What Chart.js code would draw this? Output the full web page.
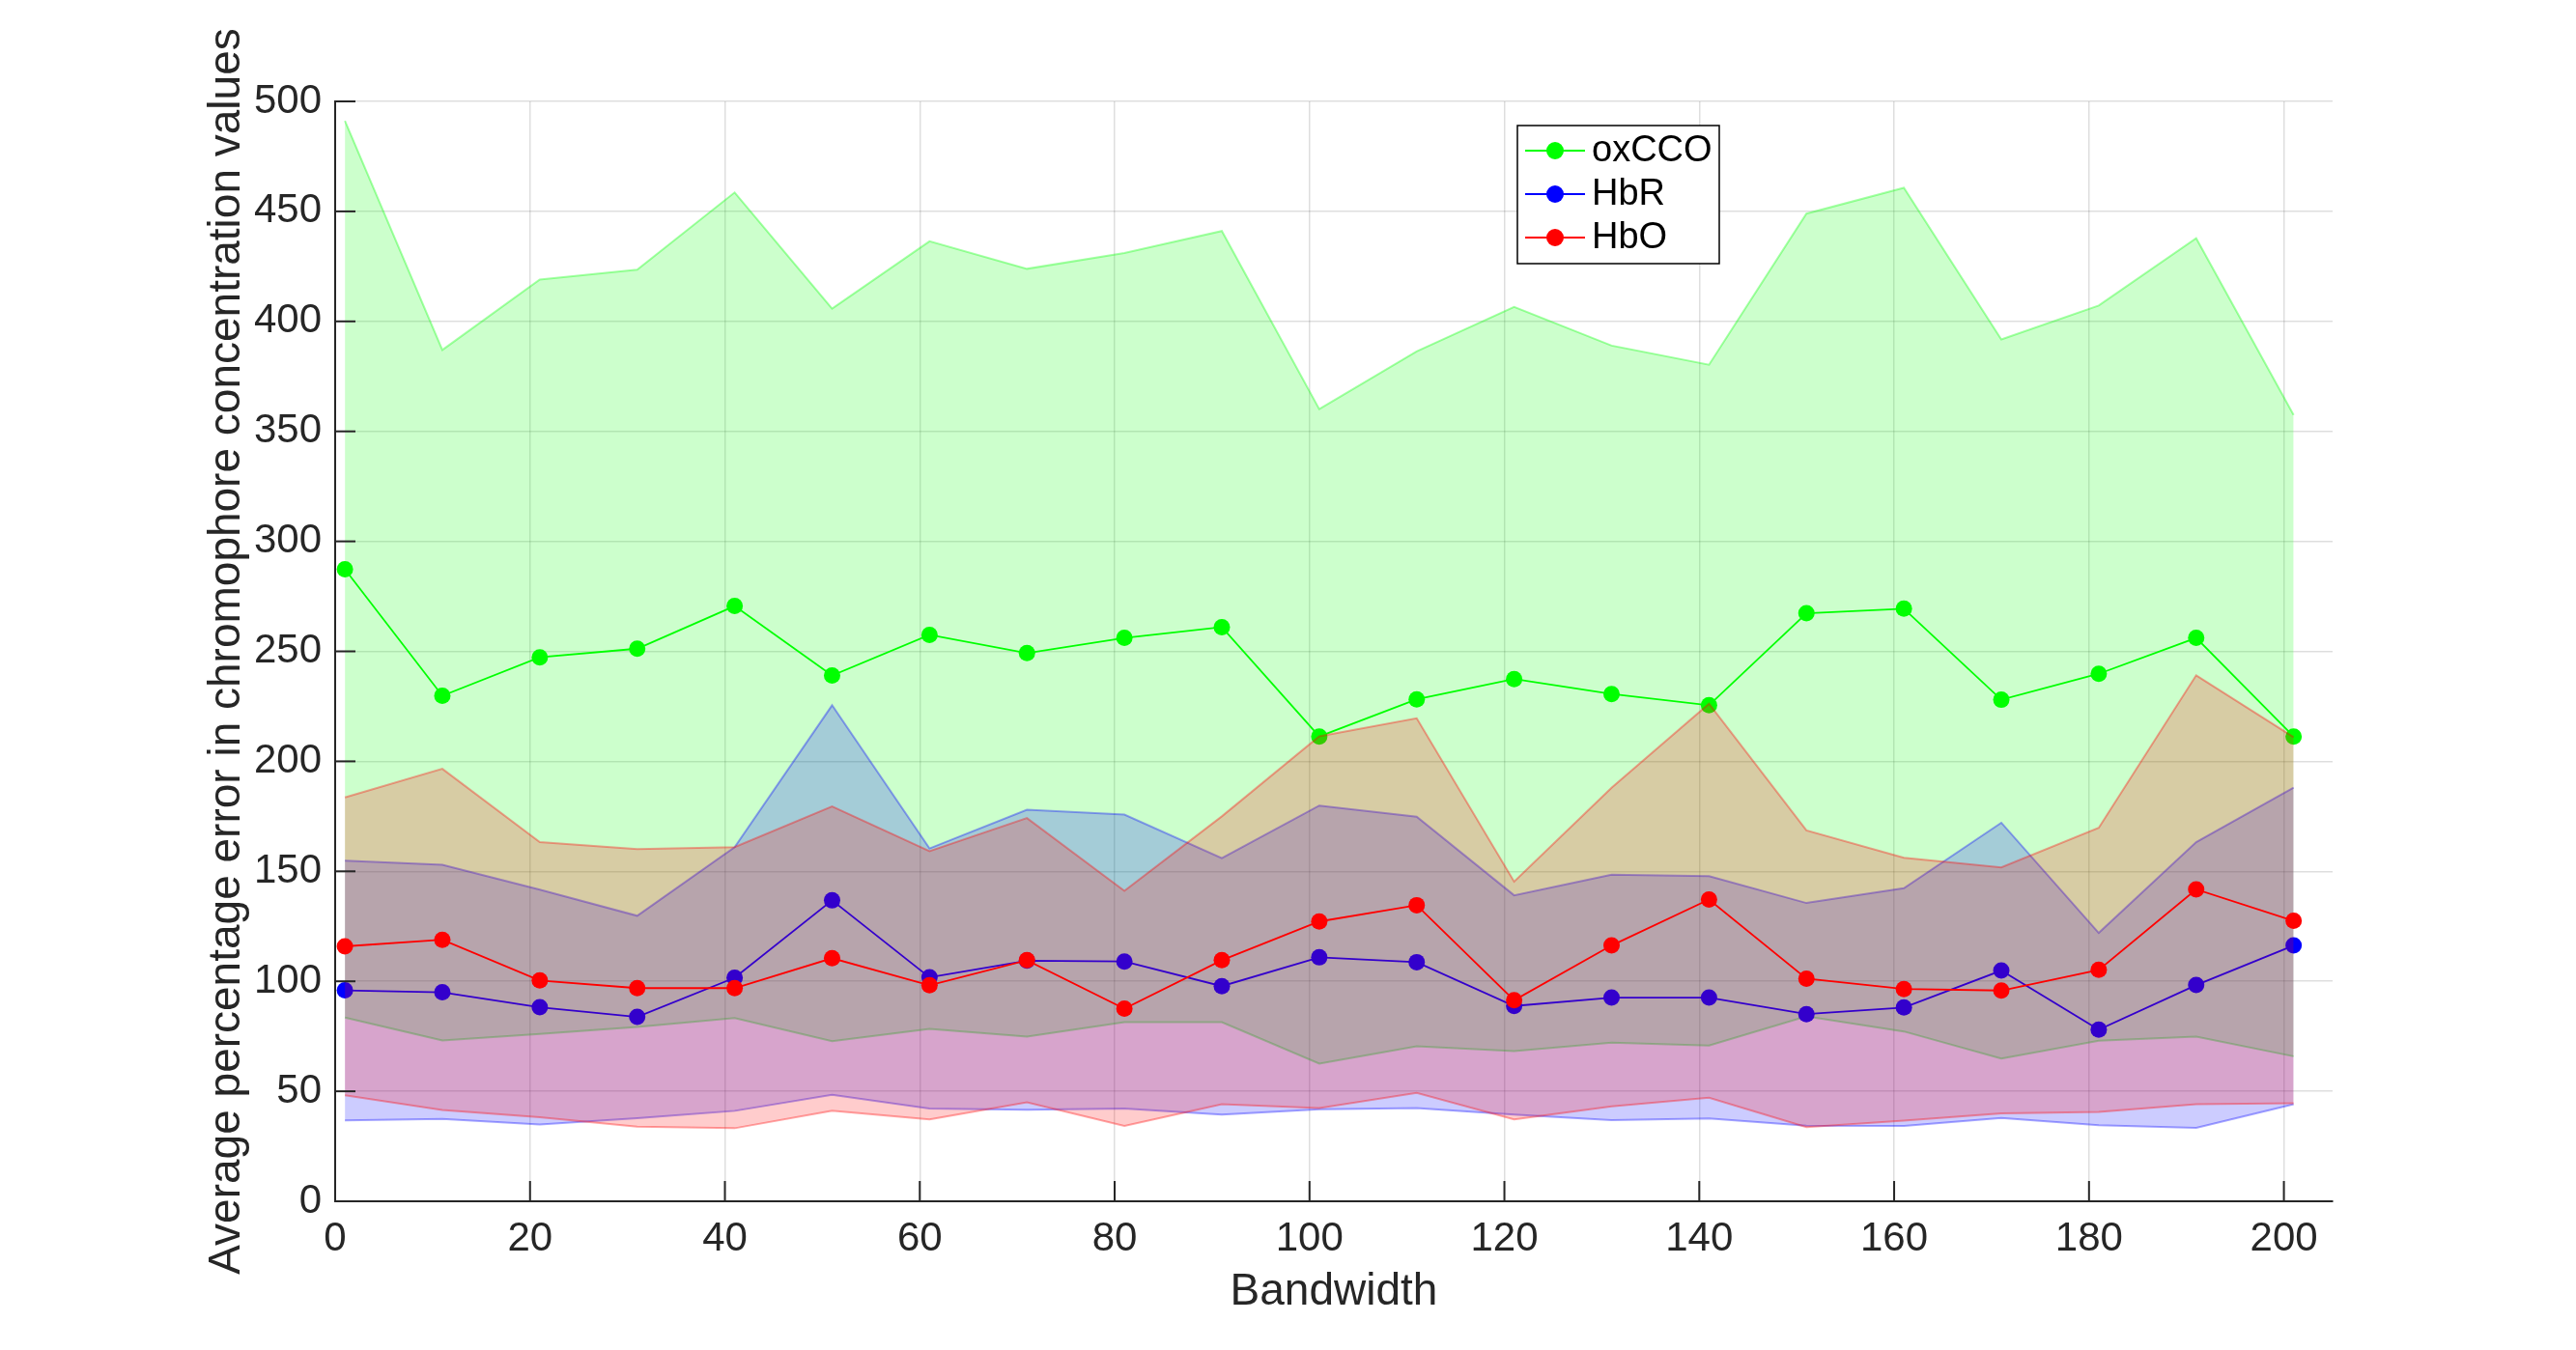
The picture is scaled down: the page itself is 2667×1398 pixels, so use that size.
<!DOCTYPE html>
<html>
<head>
<meta charset="utf-8">
<title>Average percentage error vs bandwidth</title>
<script src="https://cdn.jsdelivr.net/npm/chart.js@4.4.1/dist/chart.umd.min.js"></script>
<style>
  html, body { margin: 0; padding: 0; background: #fff; }
  #wrap { width: 2667px; height: 1398px; }
</style>
</head>
<body>
<div id="wrap"><canvas id="chart" width="2667" height="1398"></canvas></div>
<script>
// Bandwidth values (x axis)
const bandwidth = [1, 11, 21, 31, 41, 51, 61, 71, 81, 91, 101, 111, 121, 131, 141, 151, 161, 171, 181, 191, 201];

// oxCCO : mean and band (upper / lower)
const oxccoMean  = [287.3, 229.8, 247.3, 251.2, 270.6, 239.0, 257.5, 249.2, 256.1, 261.0, 211.3, 228.2, 237.4, 230.6, 225.5, 267.3, 269.4, 228.0, 239.8, 256.1, 211.3];
const oxccoUpper = [491.2, 387.0, 419.0, 423.5, 458.6, 405.8, 436.4, 423.9, 431.1, 441.1, 360.1, 386.4, 406.6, 389.0, 380.3, 449.0, 460.7, 391.8, 407.2, 437.8, 357.4];
const oxccoLower = [83.5, 73.1, 76.0, 79.2, 83.3, 72.8, 78.4, 74.8, 81.4, 81.4, 62.6, 70.5, 68.3, 72.1, 70.8, 84.1, 77.2, 64.9, 73.0, 74.8, 65.9];

// HbR
const hbrMean  = [95.9, 95.0, 88.2, 83.8, 101.6, 136.8, 101.8, 109.4, 109.0, 97.8, 110.9, 108.7, 88.8, 92.6, 92.6, 85.1, 88.1, 104.9, 78.0, 98.3, 116.3];
const hbrUpper = [154.8, 153.0, 141.7, 129.8, 161.0, 225.5, 160.4, 178.0, 175.8, 156.0, 179.9, 174.8, 139.1, 148.5, 147.8, 135.6, 142.3, 172.1, 122.0, 163.3, 188.1];
const hbrLower = [36.8, 37.4, 34.9, 37.7, 41.1, 48.4, 42.1, 41.6, 42.1, 39.4, 41.8, 42.4, 39.4, 36.9, 37.6, 34.4, 34.2, 37.9, 34.6, 33.4, 44.1];

// HbO
const hboMean  = [115.9, 118.9, 100.4, 96.9, 96.9, 110.5, 98.2, 109.6, 87.6, 109.6, 127.2, 134.6, 91.4, 116.3, 137.2, 101.2, 96.5, 95.8, 105.2, 141.8, 127.5];
const hboUpper = [183.6, 196.6, 163.3, 160.1, 161.0, 179.5, 159.2, 174.2, 141.1, 175.0, 211.4, 219.6, 145.3, 188.0, 226.2, 168.6, 156.2, 151.8, 169.8, 239.1, 211.0];
const hboLower = [48.2, 41.5, 38.2, 33.9, 33.2, 41.2, 37.2, 45.0, 34.2, 44.1, 42.4, 49.3, 37.2, 43.1, 47.1, 33.7, 36.7, 39.9, 40.6, 44.1, 44.6];

// Tick values
const xTicks = [0, 20, 40, 60, 80, 100, 120, 140, 160, 180, 200];
const yTicks = [0, 50, 100, 150, 200, 250, 300, 350, 400, 450, 500];

const FONT = "'Liberation Sans', Arial, Helvetica, sans-serif";
const INK = '#262626';

function pts(values) {
    return bandwidth.map((b, i) => ({ x: b, y: values[i] }));
}

// one series = a shaded band (upper filled down to lower) plus the mean line
function series(label, rgb, mean, upper, lower, order) {
    const solid = 'rgb(' + rgb + ')';
    const edge = 'rgba(' + rgb + ',0.35)';
    const face = 'rgba(' + rgb + ',0.2)';
    return [
        {
            label: label,
            data: pts(mean),
            borderColor: solid,
            backgroundColor: solid,
            borderWidth: 1.8,
            pointRadius: 8.5,
            pointHoverRadius: 8.5,
            pointBorderWidth: 0,
            pointBackgroundColor: solid,
            fill: false,
            order: order,
            isMean: true
        },
        {
            label: label + ' upper',
            data: pts(upper),
            borderColor: edge,
            backgroundColor: face,
            borderWidth: 2,
            pointRadius: 0,
            fill: '+1',
            order: order + 1
        },
        {
            label: label + ' lower',
            data: pts(lower),
            borderColor: edge,
            borderWidth: 2,
            pointRadius: 0,
            fill: false,
            order: order + 1
        }
    ];
}

// inward ticks, as in the original figure
const innerTicks = {
    id: 'innerTicks',
    afterDatasetsDraw(chart) {
        const { ctx, chartArea, scales } = chart;
        ctx.save();
        ctx.strokeStyle = INK;
        ctx.lineWidth = 2;
        xTicks.forEach(v => {
            const px = scales.x.getPixelForValue(v);
            ctx.beginPath();
            ctx.moveTo(px, chartArea.bottom);
            ctx.lineTo(px, chartArea.bottom - 21);
            ctx.stroke();
        });
        yTicks.forEach(v => {
            const py = scales.y.getPixelForValue(v);
            ctx.beginPath();
            ctx.moveTo(chartArea.left, py);
            ctx.lineTo(chartArea.left + 21, py);
            ctx.stroke();
        });
        ctx.restore();
    }
};

// boxed legend inside the axes
const boxLegend = {
    id: 'boxLegend',
    afterDraw(chart) {
        const ctx = chart.ctx;
        const items = chart.data.datasets.filter(d => d.isMean);
        const left = 1571, top = 130, w = 209, h = 143;
        ctx.save();
        ctx.fillStyle = '#fff';
        ctx.fillRect(left, top, w, h);
        ctx.strokeStyle = '#000';
        ctx.lineWidth = 1.5;
        ctx.strokeRect(left, top, w, h);
        ctx.font = '38px ' + FONT;
        ctx.textBaseline = 'middle';
        ctx.textAlign = 'left';
        items.forEach((d, i) => {
            const y = top + 26 + i * 45;
            ctx.strokeStyle = d.borderColor;
            ctx.lineWidth = 1.8;
            ctx.beginPath();
            ctx.moveTo(left + 8, y);
            ctx.lineTo(left + 70, y);
            ctx.stroke();
            ctx.fillStyle = d.borderColor;
            ctx.beginPath();
            ctx.arc(left + 39, y, 9, 0, Math.PI * 2);
            ctx.fill();
            ctx.fillStyle = '#000';
            ctx.fillText(d.label, left + 77, y + 1);
        });
        ctx.restore();
    }
};

const datasets = [].concat(
    series('oxCCO', '0,255,0', oxccoMean, oxccoUpper, oxccoLower, 5),
    series('HbR', '0,0,255', hbrMean, hbrUpper, hbrLower, 3),
    series('HbO', '255,0,0', hboMean, hboUpper, hboLower, 1)
);

new Chart(document.getElementById('chart'), {
    type: 'line',
    data: { datasets: datasets },
    plugins: [innerTicks, boxLegend],
    options: {
        responsive: false,
        devicePixelRatio: 1,
        animation: false,
        layout: { padding: { left: 200, top: 105, right: 252, bottom: 0 } },
        plugins: {
            legend: { display: false },
            tooltip: { enabled: false },
            filler: { drawTime: 'beforeDatasetDraw' }
        },
        scales: {
            x: {
                type: 'linear',
                min: 0,
                max: 205,
                afterFit(scale) { scale.height = 154; },
                afterBuildTicks(scale) { scale.ticks = xTicks.map(v => ({ value: v })); },
                ticks: {
                    padding: 14,
                    color: INK,
                    font: { family: FONT, size: 42 },
                    callback: v => v
                },
                grid: { color: 'rgba(0,0,0,0.13)', lineWidth: 1.5, drawTicks: false },
                border: { display: true, color: INK, width: 2 },
                title: {
                    display: true,
                    text: 'Bandwidth',
                    color: INK,
                    font: { family: FONT, size: 46 },
                    padding: { top: 0, bottom: 32 }
                }
            },
            y: {
                type: 'linear',
                min: 0,
                max: 500,
                afterFit(scale) { scale.width = 147; },
                afterBuildTicks(scale) { scale.ticks = yTicks.map(v => ({ value: v })); },
                ticks: {
                    padding: 14,
                    color: INK,
                    font: { family: FONT, size: 42 },
                    callback: v => v
                },
                grid: { color: 'rgba(0,0,0,0.13)', lineWidth: 1.5, drawTicks: false },
                border: { display: true, color: INK, width: 2 },
                title: {
                    display: true,
                    text: 'Average percentage error in chromophore concentration values',
                    color: INK,
                    font: { family: FONT, size: 46 },
                    padding: { top: 8, bottom: 0 }
                }
            }
        }
    }
});
</script>
</body>
</html>
